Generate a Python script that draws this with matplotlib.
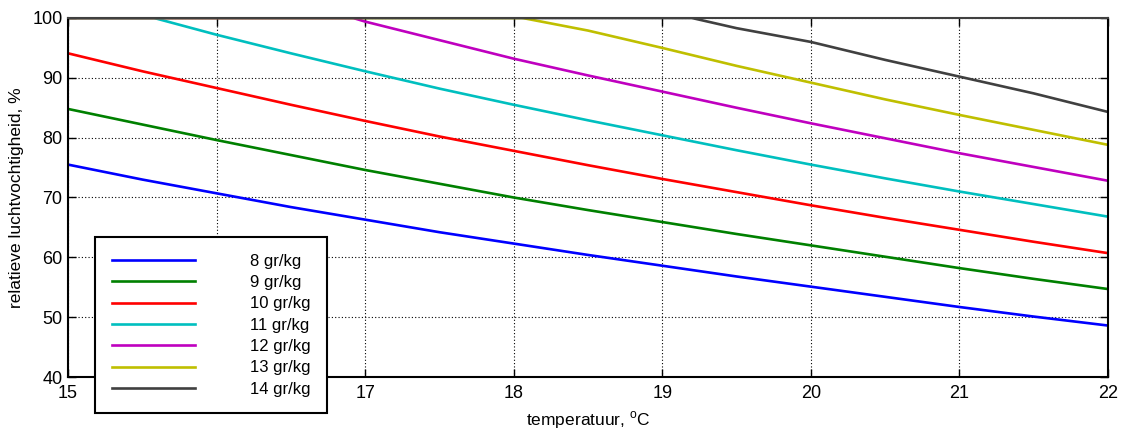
# Relative humidity vs temperature for fixed absolute humidity
import matplotlib
matplotlib.use("Agg")
import matplotlib.pyplot as plt

plt.rcParams['font.family'] = ['Liberation Sans', 'DejaVu Sans']
plt.rcParams['mathtext.fontset'] = 'custom'
plt.rcParams['mathtext.rm'] = 'Liberation Sans'

temps = [15, 15.5, 16, 16.5, 17, 17.5, 18, 18.5, 19, 19.5, 20, 20.5, 21, 21.5, 22]

rh_8 = [75.5, 73.0, 70.7, 68.4, 66.3, 64.2, 62.3, 60.4, 58.6, 56.8, 55.1, 53.4, 51.7, 50.1, 48.6]
rh_9 = [84.8, 82.2, 79.6, 77.1, 74.6, 72.3, 70.0, 67.9, 65.9, 63.9, 62.0, 60.1, 58.2, 56.4, 54.7]
rh_10 = [94.1, 91.1, 88.3, 85.5, 82.8, 80.2, 77.8, 75.4, 73.1, 70.9, 68.7, 66.6, 64.6, 62.6, 60.7]

# the wetter lines sit at 100% until they leave the top edge
temps_11 = [15, 15.58, 16, 16.5, 17, 17.5, 18, 18.5, 19, 19.5, 20, 20.5, 21, 21.5, 22]
rh_11 = [100, 100, 97.2, 94.1, 91.1, 88.2, 85.5, 82.9, 80.4, 77.9, 75.5, 73.2, 71.0, 68.9, 66.8]
temps_12 = [15, 16.92, 17, 17.5, 18, 18.5, 19, 19.5, 20, 20.5, 21, 21.5, 22]
rh_12 = [100, 100, 99.4, 96.3, 93.2, 90.4, 87.7, 85.0, 82.4, 79.9, 77.4, 75.1, 72.8]
temps_13 = [15, 18.06, 18.5, 19, 19.5, 20, 20.5, 21, 21.5, 22]
rh_13 = [100, 100, 97.9, 95.0, 92.0, 89.2, 86.4, 83.8, 81.3, 78.8]
temps_14 = [15, 19.2, 19.5, 20, 20.5, 21, 21.5, 22]
rh_14 = [100, 100, 98.3, 96.0, 93.0, 90.2, 87.4, 84.3]

labels = ['8 gr/kg', '9 gr/kg', '10 gr/kg', '11 gr/kg', '12 gr/kg', '13 gr/kg', '14 gr/kg']
colors = ['#0000ff', '#008000', '#ff0000', '#00bfbf', '#bf00bf', '#bfbf00', '#404040']

fig = plt.figure(figsize=(11.22, 4.29), dpi=100)
ax = fig.add_axes([68 / 1122, 1 - 377 / 429, 1040 / 1122, 359 / 429])

series = [(temps, rh_8), (temps, rh_9), (temps, rh_10), (temps_11, rh_11),
          (temps_12, rh_12), (temps_13, rh_13), (temps_14, rh_14)]
for (t, rh), lab, c in zip(series, labels, colors):
    ax.plot(t, rh, color=c, linewidth=1.9, label=lab)

ax.set_xlim(15, 22)
ax.set_ylim(40, 100)
ax.set_xticks(range(15, 23))
ax.set_yticks(range(40, 101, 10))
ax.grid(True, color='black', linestyle=(0, (1, 2)), linewidth=0.8)
ax.tick_params(direction='in', top=True, right=True, length=6, width=1,
               labelsize=13, colors='black')
ax.tick_params(axis='x', pad=6)
ax.tick_params(axis='y', pad=4)
for s in ax.spines.values():
    s.set_linewidth(1.5)
ax.spines['top'].set_color('#404040')

ax.set_xlabel(r'temperatuur, $^{\mathrm{o}}$C', fontsize=12.5, labelpad=5)
ax.set_ylabel('relatieve luchtvochtigheid, %', fontsize=12.5, labelpad=6)

leg = ax.legend(loc='upper left', bbox_to_anchor=(95 / 1122, 1 - 237 / 429),
                bbox_transform=fig.transFigure, fontsize=12, frameon=True,
                fancybox=False, edgecolor='black', framealpha=1,
                handlelength=5.0, handletextpad=3.3, labelspacing=0.38,
                borderpad=1.0, borderaxespad=0)
leg.get_frame().set_linewidth(1.5)
leg.set_zorder(10)

fig.savefig('out.png', dpi=100)
